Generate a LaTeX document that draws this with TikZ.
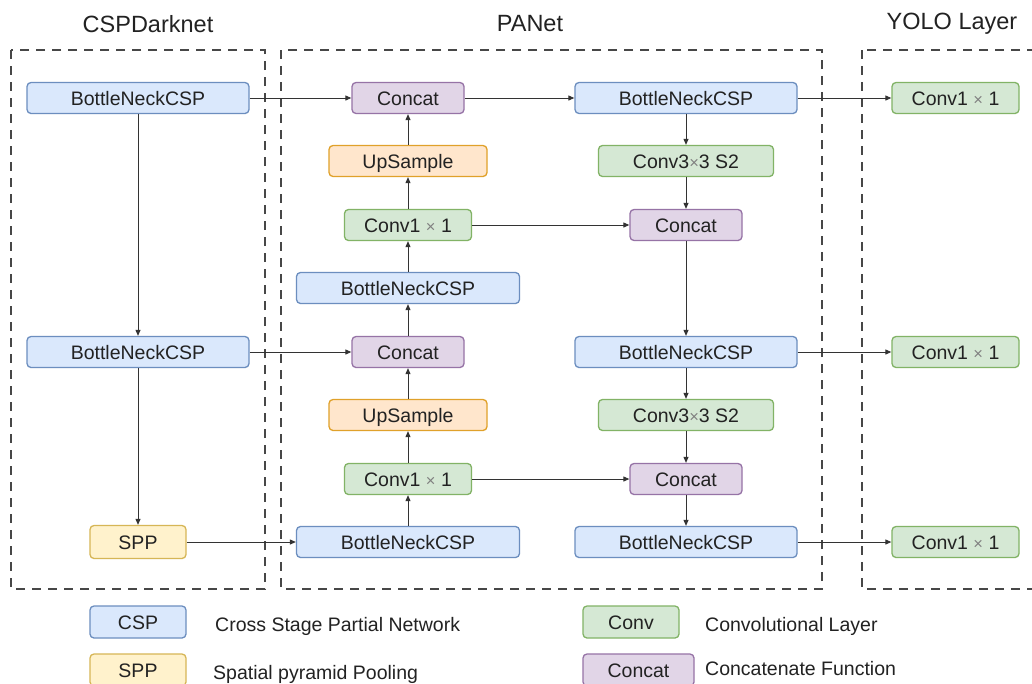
\documentclass[tikz,border=0pt]{standalone}
\usepackage{fontspec}
\setmainfont{Liberation Sans}
\usetikzlibrary{arrows.meta}
\definecolor{bfill}{HTML}{DAE8FC}\definecolor{bdraw}{HTML}{6C8EBF}
\definecolor{gfill}{HTML}{D5E8D4}\definecolor{gdraw}{HTML}{82B366}
\definecolor{pfill}{HTML}{E1D5E7}\definecolor{pdraw}{HTML}{9673A6}
\definecolor{ofill}{HTML}{FFE6CC}\definecolor{odraw}{HTML}{E0A12A}
\definecolor{yfill}{HTML}{FFF2CC}\definecolor{ydraw}{HTML}{D6B656}
\definecolor{txt}{HTML}{222222}
\definecolor{edge}{HTML}{333333}
\newcommand\tms{{\color{gray}\fontsize{16.5}{16.5}\selectfont×}}
\begin{document}
\begin{tikzpicture}[x=1pt,y=-1pt,
  box/.style={rounded corners=4pt, line width=1.3pt, inner sep=0pt, text height=14pt, text depth=0pt,
    font=\fontsize{19.5}{22}\selectfont, text=txt, minimum height=31pt},
  csp/.style={box, fill=bfill, draw=bdraw, minimum width=222pt},
  conva/.style={box, fill=gfill, draw=gdraw, minimum width=127pt},
  convb/.style={box, fill=gfill, draw=gdraw, minimum width=175pt},
  cat/.style={box, fill=pfill, draw=pdraw, minimum width=112pt},
  ups/.style={box, fill=ofill, draw=odraw, minimum width=158pt},
  sppbox/.style={box, fill=yfill, draw=ydraw, minimum width=96pt, minimum height=33pt},
  title/.style={font=\fontsize{23.5}{26}\selectfont, text=txt, inner sep=0pt},
  legtext/.style={font=\fontsize{19.5}{22}\selectfont, text=txt, inner sep=0pt, anchor=west, text height=14pt, text depth=0pt},
  group/.style={draw=edge!90, line width=1.3pt, dash pattern=on 9pt off 7pt},
  arr/.style={draw=edge, line width=1pt, -{Triangle[length=6pt,width=5pt]}}
]
\useasboundingbox (0,0) rectangle (1032,683);
\fill[white] (0,0) rectangle (1032,683);

% groups
\draw[group] (11,50) rectangle (265,589);
\draw[group] (281,50) rectangle (822,589);
\draw[group] (862,50) rectangle (1050,589);

\node[title] (t1) at (148,24) {CSPDarknet};
\node[title] (t2) at (530,24) {PANet};
\node[title] (t3) at (952,24) {YOLO Layer};

% CSPDarknet
\node[csp] (l1) at (138,98) {BottleNeckCSP};
\node[csp] (l2) at (138,352) {BottleNeckCSP};
\node[sppbox] (spp) at (138,542) {SPP};

% PANet left column
\node[cat] (m1) at (408,98) {Concat};
\node[ups] (m2) at (408,161) {UpSample};
\node[conva] (m3) at (408,225) {Conv1 \tms{} 1};
\node[csp, minimum width=223pt] (m4) at (408,288) {BottleNeckCSP};
\node[cat] (m5) at (408,352) {Concat};
\node[ups] (m6) at (408,415) {UpSample};
\node[conva] (m7) at (408,479) {Conv1 \tms{} 1};
\node[csp, minimum width=223pt] (m8) at (408,542) {BottleNeckCSP};

% PANet right column
\node[csp] (r1) at (686,98) {BottleNeckCSP};
\node[convb] (r2) at (686,161) {Conv3\tms3 S2};
\node[cat] (r3) at (686,225) {Concat};
\node[csp] (r4) at (686,352) {BottleNeckCSP};
\node[convb] (r5) at (686,415) {Conv3\tms3 S2};
\node[cat] (r6) at (686,479) {Concat};
\node[csp] (r7) at (686,542) {BottleNeckCSP};

% YOLO
\node[conva] (y1) at (955.5,98) {Conv1 \tms{} 1};
\node[conva] (y2) at (955.5,352) {Conv1 \tms{} 1};
\node[conva] (y3) at (955.5,542) {Conv1 \tms{} 1};

% connectors
\draw[arr] (l1) -- (m1);
\draw[arr] (m1) -- (r1);
\draw[arr] (r1) -- (y1);
\draw[arr] (l1) -- (l2);
\draw[arr] (l2) -- (m5);
\draw[arr] (l2) -- (spp);
\draw[arr] (spp) -- (m8);
\draw[arr] (m8) -- (m7);
\draw[arr] (m7) -- (m6);
\draw[arr] (m6) -- (m5);
\draw[arr] (m5) -- (m4);
\draw[arr] (m4) -- (m3);
\draw[arr] (m3) -- (m2);
\draw[arr] (m2) -- (m1);
\draw[arr] (m3) -- (r3);
\draw[arr] (m7) -- (r6);
\draw[arr] (r1) -- (r2);
\draw[arr] (r2) -- (r3);
\draw[arr] (r3) -- (r4);
\draw[arr] (r4) -- (r5);
\draw[arr] (r5) -- (r6);
\draw[arr] (r6) -- (r7);
\draw[arr] (r4) -- (y2);
\draw[arr] (r7) -- (y3);

% legend
\node[csp, minimum width=96pt, minimum height=32pt] (lg1) at (138,622) {CSP};
\node[legtext] (lt1) at (215,624) {Cross Stage Partial Network};
\node[sppbox, minimum height=32pt] (lg2) at (138,670) {SPP};
\node[legtext] (lt2) at (213,672) {Spatial pyramid Pooling};
\node[conva, minimum width=96pt, minimum height=32pt] (lg3) at (631,622) {Conv};
\node[legtext] (lt3) at (705,624) {Convolutional Layer};
\node[cat, minimum width=111pt, minimum height=32pt] (lg4) at (638.5,670) {Concat};
\node[legtext] (lt4) at (705,668) {Concatenate Function};
\end{tikzpicture}
\end{document}
